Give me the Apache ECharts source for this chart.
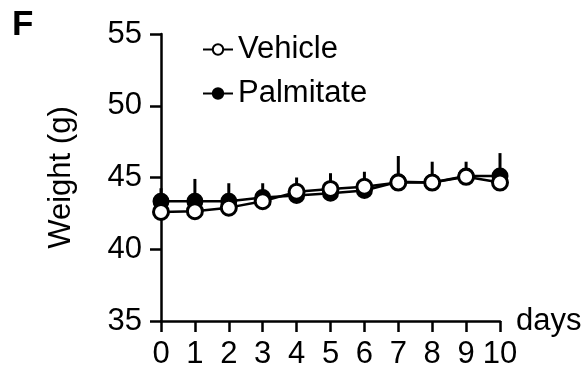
<!DOCTYPE html>
<html>
<head>
<meta charset="utf-8">
<script src="https://cdn.jsdelivr.net/npm/echarts@6/dist/echarts.min.js"></script>
<style>
  html, body { margin: 0; padding: 0; background: #fff; }
  #chart { width: 587px; height: 370px; }
</style>
</head>
<body>
<div id="chart"></div>
<script>
// Body weight over time, mean with upper SEM bars
const days = [0, 1, 2, 3, 4, 5, 6, 7, 8, 9, 10];
const vehicleWeight = [42.6, 42.65, 42.9, 43.35, 44.0, 44.2, 44.35, 44.65, 44.65, 45.05, 44.65];
const palmitateWeight = [43.35, 43.35, 43.35, 43.6, 43.75, 43.9, 44.1, 44.7, 44.65, 45.1, 45.1];
const palmitateSEM = [0.9, 1.55, 1.25, 1.0, 1.25, 1.4, 1.3, 1.8, 1.45, 1.0, 1.6];
const yTicks = [35, 40, 45, 50, 55];

const FONT = "'Liberation Sans', Arial, Helvetica, sans-serif";
const FS = 31;
const chart = echarts.init(document.getElementById('chart'), null, { renderer: 'canvas' });

const vehiclePts = days.map((d, i) => [d, vehicleWeight[i]]);
const palmitatePts = days.map((d, i) => [d, palmitateWeight[i]]);
const errBars = days.map((d, i) => [d, palmitateWeight[i], palmitateWeight[i] + palmitateSEM[i]]);

chart.setOption({
  animation: false,
  backgroundColor: '#fff',
  textStyle: { fontFamily: FONT },
  title: {
    text: 'F', left: 7, top: 3,
    textStyle: { fontFamily: FONT, fontSize: 35, fontWeight: 'bold', color: '#000' }
  },
  grid: { left: 161, right: 87, top: 34, bottom: 47 },
  legend: {
    left: 197, top: 29, orient: 'vertical',
    itemWidth: 30, itemHeight: 13, itemGap: 13,
    textStyle: { fontFamily: FONT, fontSize: FS, color: '#000', lineHeight: 31 },
    data: ['Vehicle', 'Palmitate']
  },
  xAxis: {
    type: 'value', min: 0, max: 10, interval: 1,
    name: 'days', nameLocation: 'end', nameGap: 16,
    nameTextStyle: { fontFamily: FONT, fontSize: FS, color: '#000', verticalAlign: 'middle', padding: [0, 0, 4, 0] },
    axisLine: { show: true, onZero: false, lineStyle: { color: '#000', width: 2.5 } },
    axisTick: { show: true, inside: false, length: 11, lineStyle: { color: '#000', width: 2.5 } },
    axisLabel: { fontFamily: FONT, fontSize: FS, color: '#000', margin: 18 },
    splitLine: { show: false }
  },
  yAxis: {
    type: 'value', min: yTicks[0], max: yTicks[yTicks.length - 1], interval: 5,
    name: 'Weight (g)', nameLocation: 'middle', nameGap: 84, nameRotate: 90,
    nameTextStyle: { fontFamily: FONT, fontSize: FS, color: '#000' },
    axisLine: { show: true, onZero: false, lineStyle: { color: '#000', width: 2.5 } },
    axisTick: { show: true, inside: false, length: 11, lineStyle: { color: '#000', width: 2.5 } },
    axisLabel: { fontFamily: FONT, fontSize: FS, color: '#000', margin: 19 },
    splitLine: { show: false }
  },
  series: [
    {
      name: 'SEM', type: 'custom', z: 1,
      data: errBars,
      renderItem: function (params, api) {
        const p1 = api.coord([api.value(0), api.value(1)]);
        const p2 = api.coord([api.value(0), api.value(2)]);
        return {
          type: 'line',
          shape: { x1: p1[0], y1: p1[1], x2: p2[0], y2: p2[1] },
          style: { stroke: '#000', lineWidth: 3 }
        };
      }
    },
    {
      name: 'Palmitate', type: 'line', z: 2,
      data: palmitatePts,
      symbol: 'circle', symbolSize: 15,
      lineStyle: { color: '#000', width: 2.5 },
      itemStyle: { color: '#000', borderColor: '#000', borderWidth: 2 }
    },
    {
      name: 'Vehicle', type: 'line', z: 3,
      data: vehiclePts,
      symbol: 'circle', symbolSize: 15,
      lineStyle: { color: '#000', width: 2.5 },
      itemStyle: { color: '#fff', borderColor: '#000', borderWidth: 3 }
    }
  ]
});
</script>
</body>
</html>
